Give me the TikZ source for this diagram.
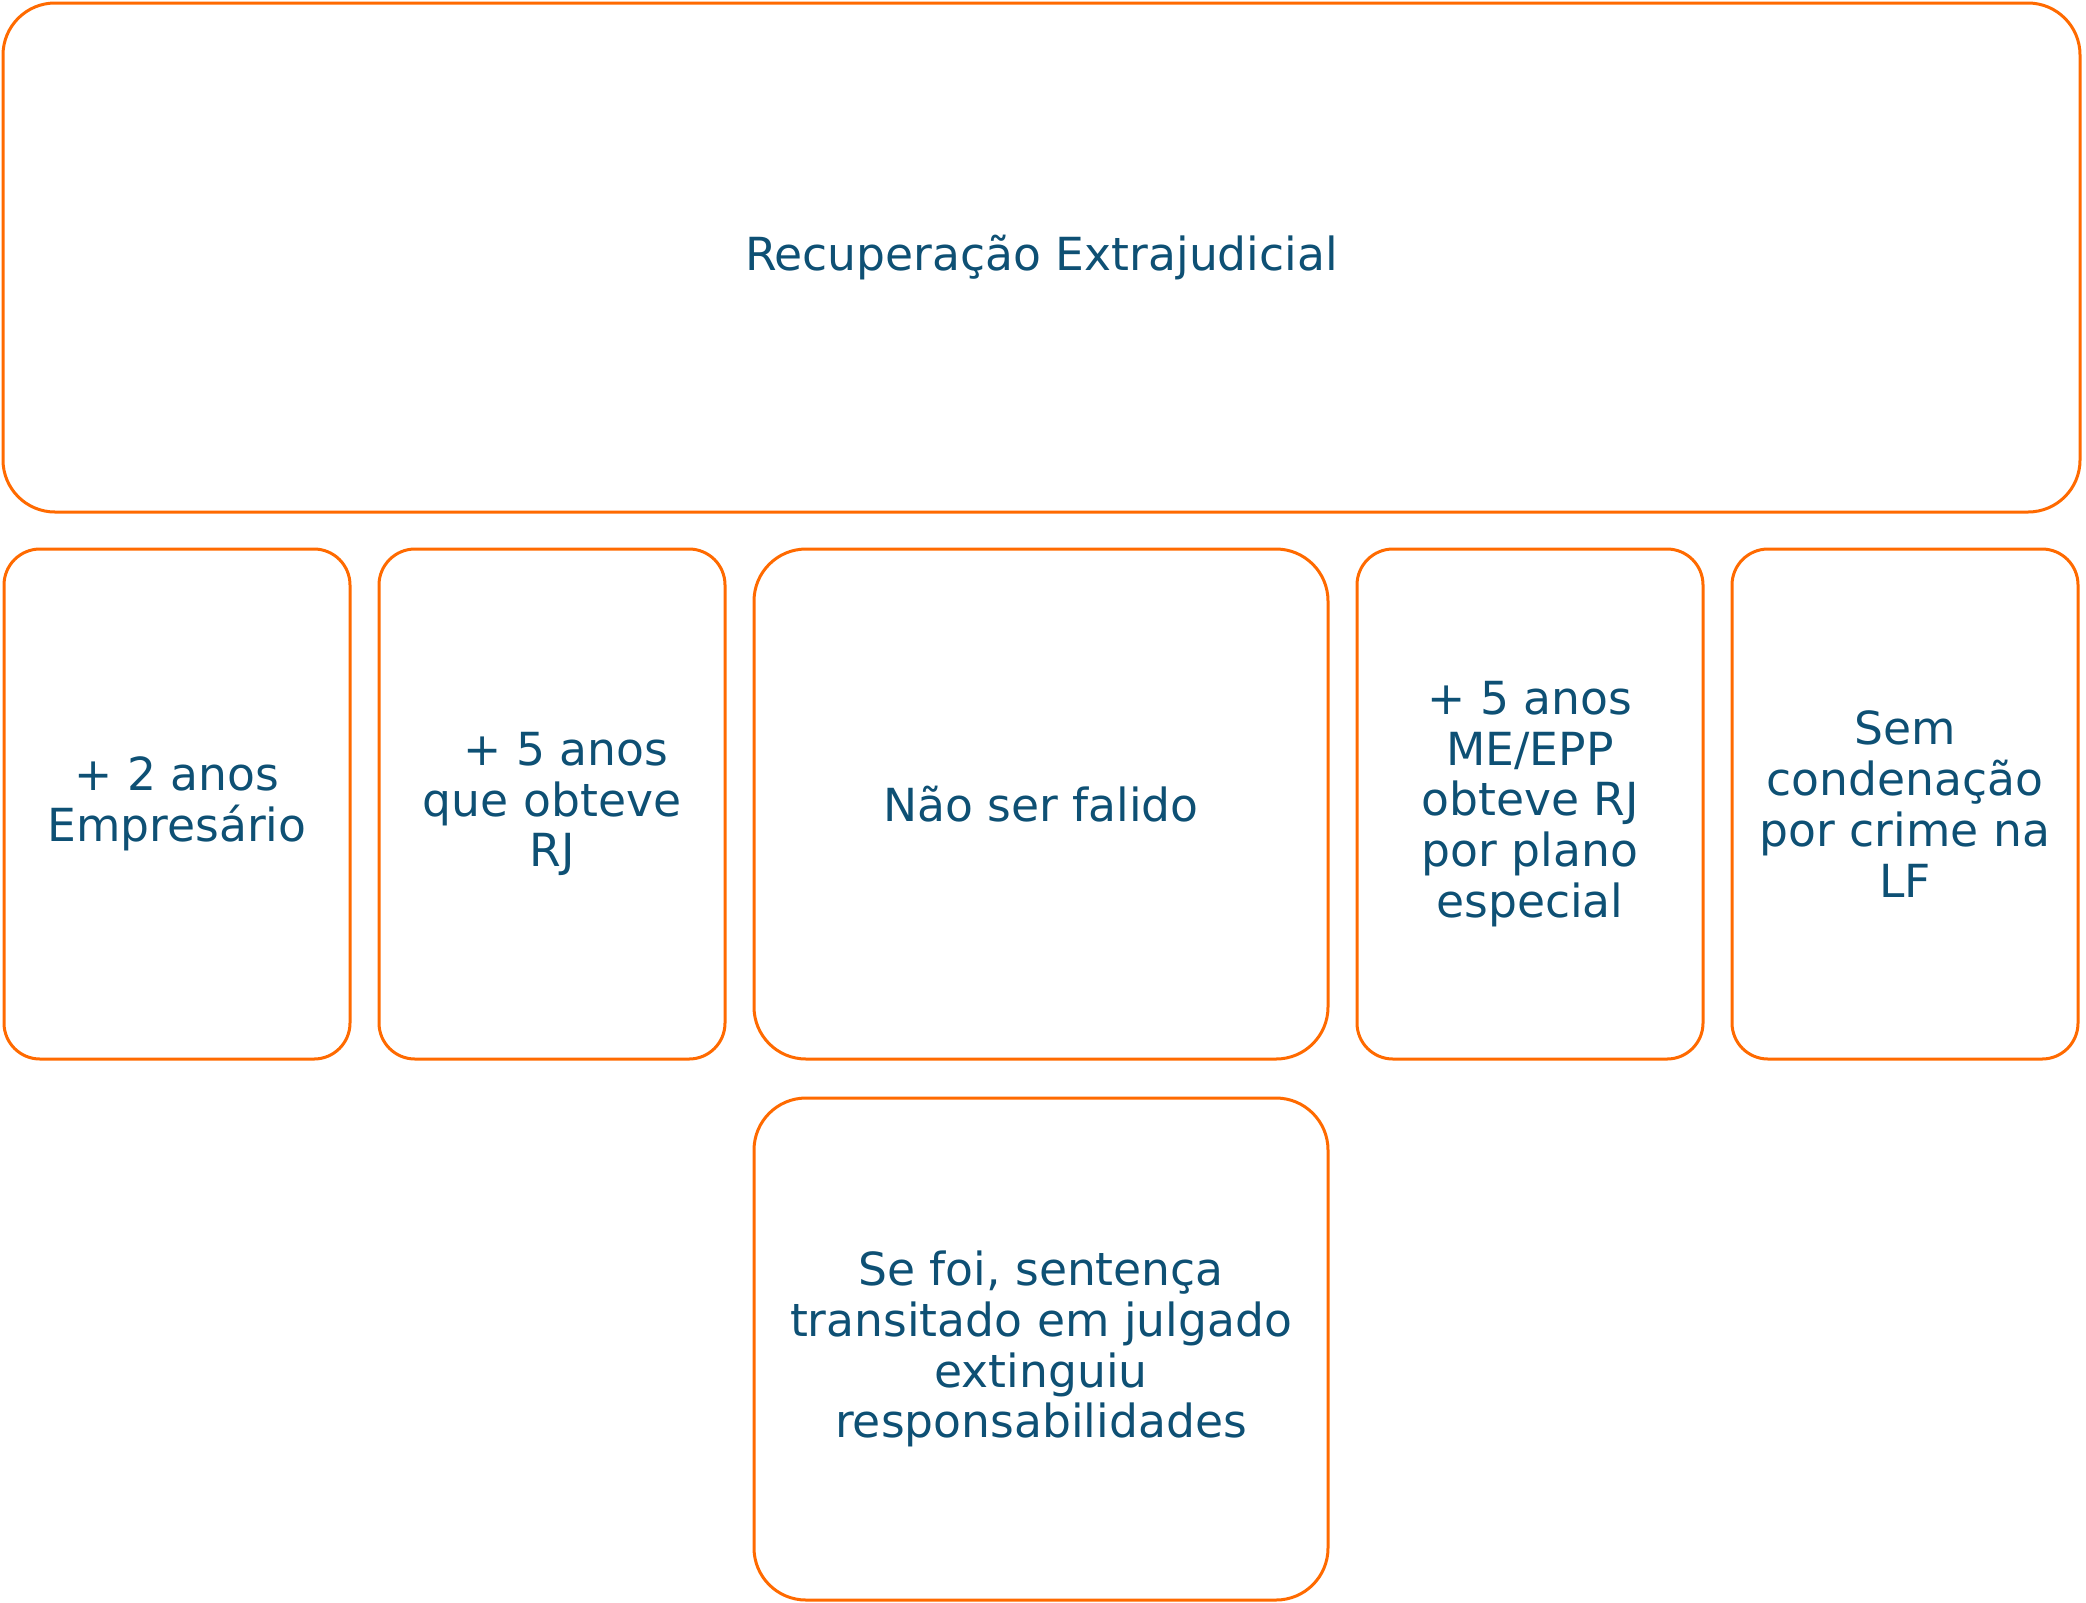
\documentclass[tikz,border=0pt]{standalone}
\usepackage{fontspec}
\setmainfont{DejaVu Sans}
\usetikzlibrary{positioning}

\definecolor{laranja}{HTML}{FF6A00}
\definecolor{azul}{HTML}{0E5074}

\tikzset{
  caixa/.style     = {shape=rectangle, rounded corners=18pt,
                      draw=laranja, line width=1.5pt, align=center,
                      text=azul, inner sep=0pt, outer sep=0pt,
                      font=\fontsize{22.8}{25.4}\selectfont},
  titulo/.style    = {caixa, minimum width=1038.5pt, minimum height=254.5pt,
                      rounded corners=26pt},
  requisito/.style = {caixa, minimum width=173pt, minimum height=255pt},
  largo/.style     = {caixa, minimum width=287pt, minimum height=255pt,
                      rounded corners=26pt}
}

\begin{document}
\begin{tikzpicture}
\useasboundingbox (0,0) rectangle (1043pt,-801pt);
\node[titulo, anchor=north west] (rext) at (1.5pt,-1.5pt) {Recuperação Extrajudicial};
\node[requisito, below right=18.5pt and 0.5pt of rext.south west] (anos2) {+ 2 anos\\Empresário};
\node[requisito, right=14.5pt of anos2] (anos5) {\hspace{0.6em}+ 5 anos\\que obteve\\RJ};
\node[largo, right=14.5pt of anos5] (falido) {Não ser falido};
\node[requisito, right=14.5pt of falido] (meepp) {+ 5 anos\\ME/EPP\\obteve RJ\\por plano\\especial};
\node[requisito, right=14.5pt of meepp] (crime) {Sem\\condenação\\por crime na\\LF};
\node[largo, below=19.5pt of falido, minimum height=251pt] (sentenca) {Se foi, sentença\\transitado em julgado\\extinguiu\\responsabilidades};
\end{tikzpicture}
\end{document}
